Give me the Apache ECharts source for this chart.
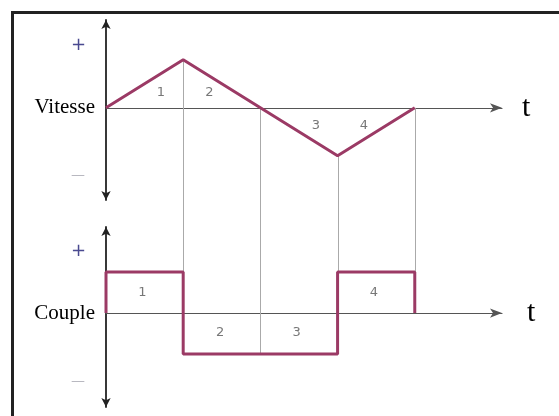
<!DOCTYPE html>
<html>
<head>
<meta charset="utf-8">
<script src="https://cdn.jsdelivr.net/npm/echarts@6/dist/echarts.min.js"></script>
<style>
  html, body { margin: 0; padding: 0; background: #fff; }
  #main { width: 559px; height: 416px; }
</style>
</head>
<body>
<div id="main"></div>
<script>
// phase boundaries on the time axis
var tVals = [0, 1, 2, 3, 4];
// speed at each boundary
var speedVals = [0, 1, 0, -1, 0];
// torque level during each phase (1..4)
var torqueVals = [1, -1, -1, 1];
// phase numbers and where they sit
var phaseNames = ['1', '2', '3', '4'];
var speedLabelPos = [[0.71, 0.31], [1.34, 0.31], [2.72, -0.37], [3.34, -0.37]];
var torqueLabelPos = [[0.47, 0.5], [1.48, -0.47], [2.47, -0.47], [3.47, 0.5]];
// "+" / "-" marks on the vertical axes
var speedSignVals = [1.31, 0, -1.4];
var torqueSignVals = [1.51, 0, -1.66];

var RED = '#9b3a65';
var serif = '"Liberation Serif", "DejaVu Serif", serif';

var speedData = tVals.map(function (t, i) { return [t, speedVals[i]]; });
var torqueData = [[0, 0]];
torqueVals.forEach(function (c, i) { torqueData.push([tVals[i + 1], c]); });
torqueData.push([tVals[tVals.length - 1], 0]);

function labelData(pos) {
  return pos.map(function (p, i) { return { name: phaseNames[i], value: p }; });
}

function xAxisOpt(idx, gap) {
  return {
    gridIndex: idx, type: 'value', min: 0, max: 5.13,
    axisLine: { onZero: true, symbol: ['none', 'arrow'], symbolSize: [7, 12],
      lineStyle: { color: '#555', width: 1.2 } },
    axisTick: { show: false }, axisLabel: { show: false }, splitLine: { show: false },
    name: 't', nameLocation: 'end', nameGap: gap,
    nameTextStyle: { fontFamily: serif, fontSize: 30, color: '#000', verticalAlign: 'middle', padding: [0, 0, 6, 0] }
  };
}

function yAxisOpt(idx, min, max, signs, title) {
  return {
    gridIndex: idx, type: 'value', min: min, max: max,
    axisLine: { onZero: false, symbol: ['arrow', 'arrow'], symbolSize: [7, 9],
      lineStyle: { color: '#222', width: 1.8 } },
    axisTick: { show: false }, splitLine: { show: false },
    axisLabel: {
      show: true, customValues: signs, margin: 11, align: 'right',
      formatter: function (v) {
        if (v === 0) return '{name|' + title + '}';
        return v > 0 ? '{plus|+}' : '{minus|\u2014}';
      },
      rich: {
        name: { fontFamily: serif, fontSize: 21, color: '#000' },
        plus: { fontFamily: 'DejaVu Sans', fontSize: 18, color: '#4a4a90', padding: [0, 9, 0, 0] },
        minus: { fontFamily: 'DejaVu Sans', fontSize: 14, color: '#b8b8c0', padding: [0, 10, 0, 0] }
      }
    }
  };
}

var numLabel = {
  show: true, position: 'inside', formatter: '{b}',
  fontFamily: 'DejaVu Sans', fontSize: 13, color: '#555'
};

var chart = echarts.init(document.getElementById('main'));
chart.setOption({
  backgroundColor: '#fff',
  animation: false,
  grid: [
    { left: 106, top: 20, width: 396, height: 180 },
    { left: 106, top: 227, width: 396, height: 180 }
  ],
  xAxis: [xAxisOpt(0, 20), xAxisOpt(1, 25)],
  yAxis: [
    yAxisOpt(0, -1.92, 1.83, speedSignVals, 'Vitesse'),
    yAxisOpt(1, -2.29, 2.1, torqueSignVals, 'Couple')
  ],
  series: [
    { type: 'line', xAxisIndex: 0, yAxisIndex: 0, data: speedData, symbol: 'none', z: 5,
      lineStyle: { color: RED, width: 3 } },
    { type: 'line', xAxisIndex: 1, yAxisIndex: 1, data: torqueData, step: 'start', symbol: 'none', z: 5,
      lineStyle: { color: RED, width: 3 } },
    { type: 'scatter', xAxisIndex: 0, yAxisIndex: 0, data: labelData(speedLabelPos), symbolSize: 1,
      itemStyle: { color: 'transparent' }, label: numLabel, silent: true },
    { type: 'scatter', xAxisIndex: 1, yAxisIndex: 1, data: labelData(torqueLabelPos), symbolSize: 1,
      itemStyle: { color: 'transparent' }, label: numLabel, silent: true }
  ]
});

// thin grey guides joining the speed curve to the torque steps at each phase boundary
var guides = [];
for (var i = 1; i < tVals.length; i++) {
  var prev = torqueVals[i - 1];
  var next = i < torqueVals.length ? torqueVals[i] : 0;
  var p1 = chart.convertToPixel({ xAxisIndex: 0, yAxisIndex: 0 }, [tVals[i], speedVals[i]]);
  var p2 = chart.convertToPixel({ xAxisIndex: 1, yAxisIndex: 1 }, [tVals[i], Math.max(prev, next)]);
  guides.push({
    type: 'line', z: 1, silent: true,
    shape: { x1: Math.round(p1[0]) + 0.5, y1: p1[1], x2: Math.round(p2[0]) + 0.5, y2: p2[1] },
    style: { stroke: '#aaa', lineWidth: 1 }
  });
}
// page frame (top and left edges)
guides.push({
  type: 'polyline', z: 1, silent: true,
  shape: { points: [[12.5, 416], [12.5, 12.5], [559, 12.5]] },
  style: { stroke: '#222', lineWidth: 3, fill: null }
});
chart.setOption({ graphic: guides });
window.addEventListener('resize', chart.resize);
</script>
</body>
</html>
